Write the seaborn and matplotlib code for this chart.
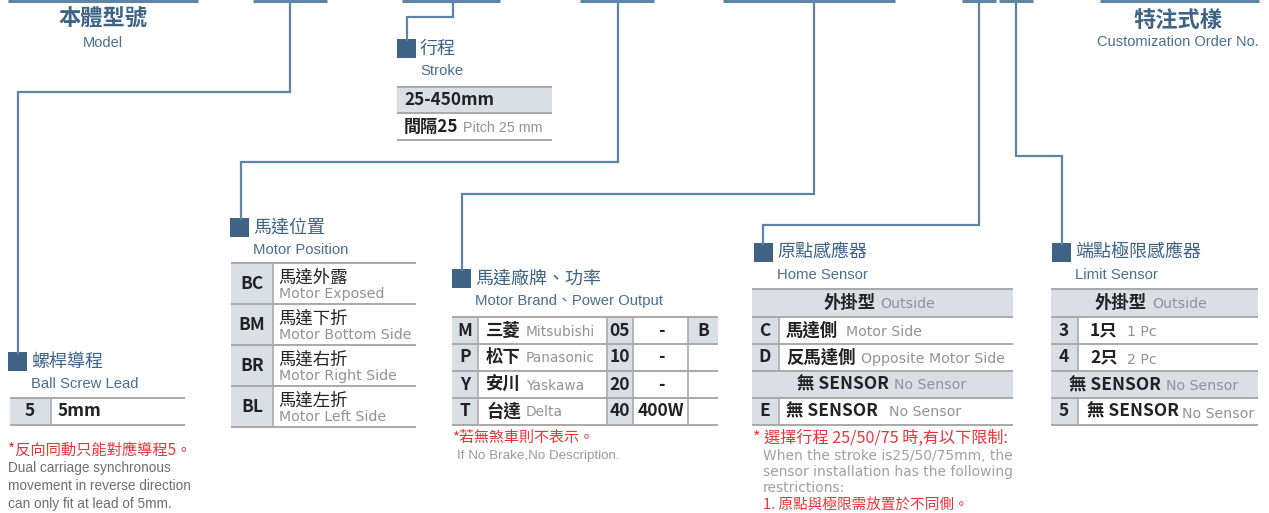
import matplotlib
matplotlib.use("Agg")
import matplotlib.pyplot as plt
import matplotlib.patches as mpatches
import seaborn as sns

sns.set_theme(style="white")
plt.rcParams['font.family'] = ['Noto Sans CJK TC', 'DejaVu Sans']

# ---------------- data ----------------
header_titles = ["本體型號", "特注式樣"]
header_subs = ["Model", "Customization Order No."]

lead_codes = ["5"]
lead_values = ["5mm"]

stroke_range = "25-450mm"
stroke_pitch_cn = "間隔25"
stroke_pitch_en = "Pitch 25 mm"

pos_codes = ["BC", "BM", "BR", "BL"]
pos_cn = ["馬達外露", "馬達下折", "馬達右折", "馬達左折"]
pos_en = ["Motor Exposed", "Motor Bottom Side", "Motor Right Side", "Motor Left Side"]

brand_codes = ["M", "P", "Y", "T"]
brand_cn = ["三菱", "松下", "安川", "台達"]
brand_en = ["Mitsubishi", "Panasonic", "Yaskawa", "Delta"]
power_codes = ["05", "10", "20", "40"]
power_values = ["-", "-", "-", "400W"]
brake_codes = ["B", "", "", ""]

home_codes = ["C", "D", "E"]
home_cn = ["馬達側", "反馬達側", "無 SENSOR"]
home_en = ["Motor Side", "Opposite Motor Side", "No Sensor"]

limit_codes = ["3", "4", "5"]
limit_cn = ["1只", "2只", "無 SENSOR"]
limit_en = ["1 Pc", "2 Pc", "No Sensor"]

BLUE = "#3e6385"
SUBBLUE = "#4a6f90"
LINE = "#5f84a4"
GRAYFILL = "#d9dfe5"
TLINE = "#a9a9a9"
RED = "#ec3338"
GTXT = "#929292"
DARK = "#222222"
LAT = ['Liberation Sans', 'Noto Sans CJK TC', 'DejaVu Sans']
CJK = ['Noto Sans CJK TC', 'DejaVu Sans']
WIDE = ['DejaVu Sans', 'Noto Sans CJK TC']

fig = plt.figure(figsize=(12.69, 5.13), dpi=100)
ax = fig.add_axes([0, 0, 1, 1])
ax.set_xlim(0, 1269)
ax.set_ylim(513, 0)
ax.axis("off")


def line(xs, ys, color=LINE, lw=1.6):
    ax.plot(xs, ys, color=color, lw=lw, solid_capstyle="butt", solid_joinstyle="miter")


def rect(x0, y0, x1, y1, color):
    ax.add_patch(mpatches.Rectangle((x0, y0), x1 - x0, y1 - y0, facecolor=color, edgecolor="none"))


def txt(x, y, s, size, color=DARK, weight="normal", ha="left", family=CJK, **kw):
    ax.text(x, y, s, fontsize=size, color=color, fontweight=weight, ha=ha, va="center",
            family=family, **kw)


# ---------------- top bars ----------------
top_segments = [(8, 198), (253, 327), (402, 500), (580, 654), (723, 895), (962, 996), (999, 1033), (1100, 1259)]
for a, b in top_segments:
    line([a, b], [1, 1], lw=2.2)

# headers
txt(103, 19, header_titles[0], 16, BLUE, "bold", "center")
txt(103, 43, header_subs[0], 10.5, SUBBLUE, ha="center", family=LAT)
txt(1178, 20, header_titles[1], 16, BLUE, "bold", "center")
txt(1178, 42, header_subs[1], 10.5, SUBBLUE, ha="center", family=LAT)

# connectors
line([290, 290, 18, 18], [1, 92, 92, 354])
line([453, 453, 407, 407], [1, 17, 17, 41])
line([618, 618, 241, 241], [1, 162, 162, 220])
line([814, 814, 462, 462], [1, 194, 194, 271])
line([979, 979, 763, 763], [1, 225, 225, 245])
line([1016, 1016, 1062, 1062], [1, 156, 156, 245])


def section(x, y, cn, en):
    rect(x, y, x + 19, y + 19, BLUE)
    txt(x + 23, y + 10, cn, 13, BLUE)
    txt(x + 23, y + 32, en, 10.7, SUBBLUE, family=LAT)


section(8, 352, "螺桿導程", "Ball Screw Lead")
section(397, 39, "行程", "Stroke")
section(230, 218, "馬達位置", "Motor Position")
section(452, 269, "馬達廠牌、功率", "Motor Brand、Power Output")
section(754, 243, "原點感應器", "Home Sensor")
section(1052, 243, "端點極限感應器", "Limit Sensor")

# ---------------- lead table ----------------
rect(10, 398, 51, 425, GRAYFILL)
line([10, 185], [398, 398], TLINE, 1.4)
line([10, 185], [425, 425], TLINE, 1.4)
line([51, 51], [398, 425], TLINE, 1.2)
txt(30, 411, lead_codes[0], 12.5, DARK, "bold", "center")
txt(58, 411, lead_values[0], 12.5, DARK, "bold")
txt(8, 450, "*反向同動只能對應導程5。", 11, RED)
for i, s in enumerate(["Dual carriage synchronous", "movement in reverse direction",
                       "can only fit at lead of 5mm."]):
    txt(8, 468 + i * 18, s, 9.8, "#6e6e6e", family=LAT)

# ---------------- stroke table ----------------
rect(397, 87, 552, 113, GRAYFILL)
for yy in [87, 113, 140]:
    line([397, 552], [yy, yy], TLINE, 1.4)
txt(404, 100, stroke_range, 12.3, DARK, "bold")
txt(404, 127, stroke_pitch_cn, 12.3, DARK, "bold")
txt(463, 128, stroke_pitch_en, 10.3, GTXT, family=LAT)

# ---------------- motor position table ----------------
py = [263, 304, 345, 386, 427]
rect(231, py[0], 273, py[-1], GRAYFILL)
for yy in py:
    line([231, 416], [yy, yy], TLINE, 1.4)
line([273, 273], [py[0], py[-1]], TLINE, 1.2)
for i in range(4):
    txt(252, py[i] + 21, pos_codes[i], 12.5, DARK, "bold", "center")
    txt(278, py[i] + 15, pos_cn[i], 12.5, DARK, "medium")
    txt(279, py[i] + 31, pos_en[i], 10.2, GTXT, family=WIDE)

# ---------------- motor brand table ----------------
by = [317, 344, 371, 398, 425]
rect(452, by[0], 478, by[-1], GRAYFILL)
rect(607, by[0], 633, by[-1], GRAYFILL)
rect(688, by[0], 718, by[1], GRAYFILL)
for yy in by:
    line([452, 718], [yy, yy], TLINE, 1.4)
for xx in [478, 607, 633, 688]:
    line([xx, xx], [by[0], by[-1]], TLINE, 1.2)
for i in range(4):
    yc = (by[i] + by[i + 1]) / 2
    txt(465, yc, brand_codes[i], 12.5, DARK, "bold", "center")
    txt(486, yc, brand_cn[i], 12.5, DARK, "bold")
    txt(526, yc + 1, brand_en[i], 9.9, GTXT, family=WIDE)
    txt(620, yc, power_codes[i], 12.5, DARK, "bold", "center")
    txt(661, yc, power_values[i], 12.5, DARK, "bold", "center")
    if brake_codes[i]:
        txt(703, yc, brake_codes[i], 12.5, DARK, "bold", "center")
txt(452, 438, "*若無煞車則不表示。", 10.8, RED)
txt(457, 456, "If No Brake,No Description.", 9.6, "#9a9a9a", family=LAT)

# ---------------- home sensor table ----------------
hy = [289, 317, 344, 371, 398, 425]
rect(752, hy[0], 1013, hy[1], GRAYFILL)
rect(752, hy[3], 1013, hy[4], GRAYFILL)
rect(752, hy[1], 779, hy[3], GRAYFILL)
rect(752, hy[4], 779, hy[5], GRAYFILL)
for yy in hy:
    line([752, 1013], [yy, yy], TLINE, 1.4)
line([779, 779], [hy[1], hy[3]], TLINE, 1.2)
line([779, 779], [hy[4], hy[5]], TLINE, 1.2)
txt(824, 303, "外掛型", 12.5, DARK, "bold")
txt(880, 304, "Outside", 10.2, GTXT, family=WIDE)
txt(797, 384, "無 SENSOR", 12.5, DARK, "bold")
txt(894, 385, "No Sensor", 10.2, GTXT, family=WIDE)
hrows = [(hy[1], hy[2]), (hy[2], hy[3]), (hy[4], hy[5])]
en_x = [846, 861, 889]
for i, (a, b) in enumerate(hrows):
    yc = (a + b) / 2
    txt(765, yc, home_codes[i], 12.5, DARK, "bold", "center")
    txt(786, yc, home_cn[i], 12.5, DARK, "bold")
    txt(en_x[i], yc + 1, home_en[i], 10.2, GTXT, family=WIDE)

txt(753, 438, "* 選擇行程 25/50/75 時,有以下限制:", 11.6, RED)
for i, s in enumerate(["When the stroke is25/50/75mm, the", "sensor installation has the following",
                       "restrictions:"]):
    txt(763, 456 + i * 16, s, 10, "#a0a0a0", family=WIDE)
txt(763, 505, "1. 原點與極限需放置於不同側。", 10.5, RED)

# ---------------- limit sensor table ----------------
ly = [289, 317, 344, 371, 398, 425]
rect(1051, ly[0], 1258, ly[1], GRAYFILL)
rect(1051, ly[3], 1258, ly[4], GRAYFILL)
rect(1051, ly[1], 1078, ly[3], GRAYFILL)
rect(1051, ly[4], 1078, ly[5], GRAYFILL)
for yy in ly:
    line([1051, 1258], [yy, yy], TLINE, 1.4)
line([1078, 1078], [ly[1], ly[3]], TLINE, 1.2)
line([1078, 1078], [ly[4], ly[5]], TLINE, 1.2)
txt(1095, 303, "外掛型", 12.5, DARK, "bold")
txt(1152, 304, "Outside", 10.2, GTXT, family=WIDE)
txt(1069, 385, "無 SENSOR", 12.5, DARK, "bold")
txt(1166, 386, "No Sensor", 10.2, GTXT, family=WIDE)
lrows = [(ly[1], ly[2]), (ly[2], ly[3]), (ly[4], ly[5])]
len_x = [1127, 1127, 1182]
lcn_x = [1090, 1090, 1087]
for i, (a, b) in enumerate(lrows):
    yc = (a + b) / 2
    txt(1064, yc, limit_codes[i], 12.5, DARK, "bold", "center")
    txt(lcn_x[i], yc, limit_cn[i], 12.5, DARK, "bold")
    txt(len_x[i], yc + 2, limit_en[i], 10.2, GTXT, family=WIDE)

fig.savefig("out.png", dpi=100)
